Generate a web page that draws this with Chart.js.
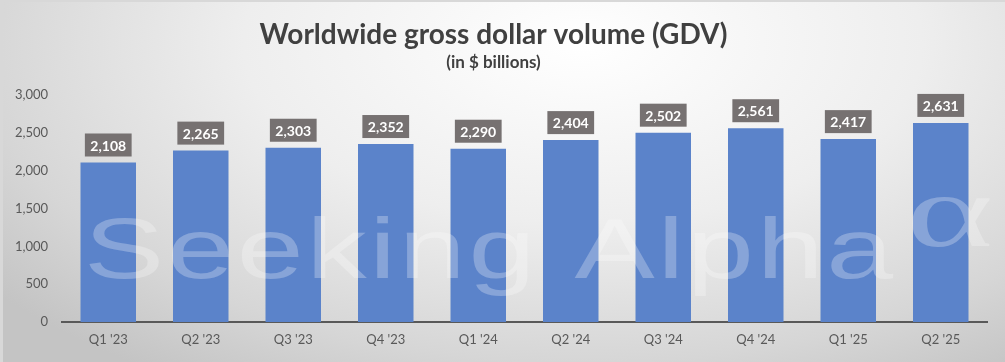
<!DOCTYPE html>
<html>
<head>
<meta charset="utf-8">
<script src="https://cdn.jsdelivr.net/npm/chart.js@4"></script>
<style>
  body { margin: 0; background: #fff; }
  #wrap {
    position: relative;
    width: 1005px;
    height: 362px;
    background: radial-gradient(ellipse 75% 110% at 58% 12%, #ffffff 0%, #eeeeee 45%, #d6d6d6 80%, #c4c4c4 100%);
    box-shadow: inset 3px 2px 0 #d8d8d8;
  }
  #gdv_chart { position: absolute; left: 0; top: 0; }
</style>
</head>
<body>
<div id="wrap"><canvas id="gdv_chart" width="1005" height="362"></canvas></div>
<script>
// data
const quarters = ["Q1 '23", "Q2 '23", "Q3 '23", "Q4 '23", "Q1 '24", "Q2 '24", "Q3 '24", "Q4 '24", "Q1 '25", "Q2 '25"];
const gdv = [2108, 2265, 2303, 2352, 2290, 2404, 2502, 2561, 2417, 2631];
const yTicks = [0, 500, 1000, 1500, 2000, 2500, 3000];

// watermark over the bars (wide, faint)
const watermark = {
  id: "watermark",
  afterDatasetsDraw(chart) {
    const ctx = chart.ctx;
    ctx.save();
    ctx.fillStyle = "rgba(255,255,255,0.27)";
    ctx.textBaseline = "alphabetic";
    ctx.font = "86px 'Liberation Sans'";
    if ("letterSpacing" in ctx) ctx.letterSpacing = "2px";
    const txt = "Seeking Alpha";
    const w = ctx.measureText(txt).width;
    ctx.save();
    ctx.translate(84, 278);
    ctx.scale(812 / w, 1);
    ctx.fillText(txt, 0, 0);
    ctx.restore();
    ctx.font = "104px 'Liberation Serif'";
    ctx.save();
    ctx.translate(906, 246);
    ctx.scale(1.6, 1);
    ctx.fillText("\u03B1", 0, 0);
    ctx.restore();
    ctx.restore();
  },
};

// grey boxes with values above bars
const valueBoxes = {
  id: "valueBoxes",
  afterDraw(chart) {
    const ctx = chart.ctx;
    const meta = chart.getDatasetMeta(0);
    ctx.save();
    ctx.font = "bold 14px Lato";
    ctx.textAlign = "center";
    ctx.textBaseline = "middle";
    meta.data.forEach((bar, i) => {
      const txt = gdv[i].toLocaleString("en-US");
      const w = ctx.measureText(txt).width + 11;
      const h = 23;
      const y = bar.y - 6 - h;
      ctx.fillStyle = "#767171";
      ctx.fillRect(bar.x - w / 2, y, w, h);
      ctx.fillStyle = "#ffffff";
      ctx.fillText(txt, bar.x, y + h / 2 + 1);
    });
    ctx.restore();
  },
};

new Chart(document.getElementById("gdv_chart"), {
  type: "bar",
  data: {
    labels: quarters,
    datasets: [
      {
        data: gdv,
        backgroundColor: "#5b83ca",
        borderWidth: 0,
        barPercentage: 0.6,
        categoryPercentage: 1,
      },
    ],
  },
  options: {
    responsive: false,
    animation: false,
    layout: { padding: { left: 0, right: 18, top: 0, bottom: 10 } },
    plugins: {
      legend: { display: false },
      tooltip: { enabled: false },
      title: {
        display: true,
        text: "Worldwide gross dollar volume (GDV)",
        color: "#404040",
        font: { family: "Lato", size: 28, weight: "bold" },
        padding: { top: 18, bottom: 1 },
      },
      subtitle: {
        display: true,
        text: "(in $ billions)",
        color: "#404040",
        font: { family: "Lato", size: 17, weight: "bold" },
        padding: { top: 0, bottom: 22 },
      },
    },
    scales: {
      x: {
        grid: { display: false },
        border: { display: true, color: "#595959", width: 2 },
        ticks: { color: "#595959", font: { family: "Lato", size: 13 }, padding: 2, maxRotation: 0 },
        afterFit: (s) => { s.height = 30; },
      },
      y: {
        min: 0,
        max: 3000,
        afterBuildTicks: (s) => { s.ticks = yTicks.map((v) => ({ value: v })); },
        grid: { display: false },
        border: { display: false },
        ticks: {
          color: "#595959",
          font: { family: "Lato", size: 13 },
          padding: 6,
          callback: (v) => v.toLocaleString("en-US"),
        },
        afterFit: (s) => { s.width = 62; },
      },
    },
  },
  plugins: [watermark, valueBoxes],
});
</script>
</body>
</html>
